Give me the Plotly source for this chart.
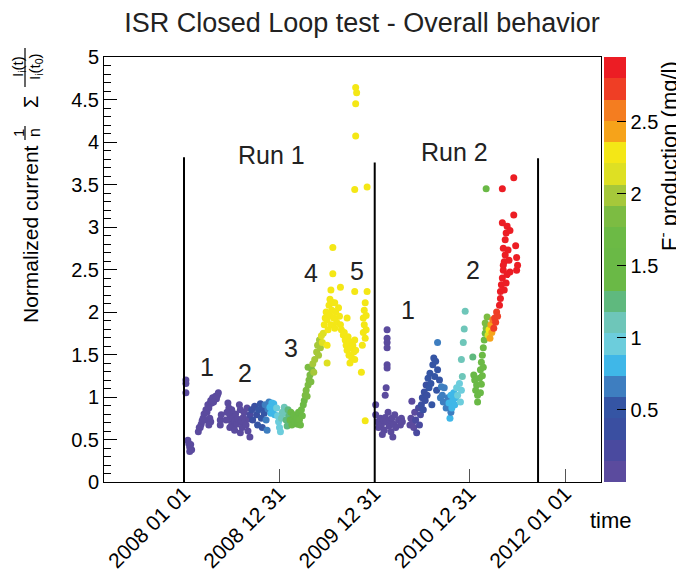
import pandas as pd
import plotly.graph_objects as go

# time as decimal year, normalized current, F- production (mg/l)
run1_t = [2008.02, 2008.02, 2008.02, 2008.04, 2008.05, 2008.06, 2008.06, 2008.08, 2008.07,
          2008.15, 2008.17, 2008.18, 2008.20, 2008.21, 2008.23, 2008.24, 2008.25, 2008.27, 2008.28,
          2008.30, 2008.33, 2008.35, 2008.36, 2008.29, 2008.26, 2008.22, 2008.16, 2008.19, 2008.34,
          2008.31, 2008.27, 2008.28, 2008.38, 2008.38, 2008.39, 2008.26,
          2008.46, 2008.47, 2008.48, 2008.49, 2008.50, 2008.51, 2008.52, 2008.53, 2008.54, 2008.55,
          2008.56, 2008.58, 2008.59, 2008.60, 2008.61, 2008.62, 2008.63, 2008.64, 2008.65, 2008.66,
          2008.67, 2008.69, 2008.68, 2008.48, 2008.53, 2008.59, 2008.50, 2008.44, 2008.45,
          2008.69, 2008.71, 2008.72, 2008.74, 2008.76, 2008.77, 2008.78, 2008.80, 2008.81, 2008.82,
          2008.83, 2008.84, 2008.85, 2008.86, 2008.87, 2008.88,
          2008.89, 2008.90, 2008.91, 2008.92, 2008.93, 2008.94, 2008.95,
          2008.97, 2008.98, 2008.99, 2009.00, 2009.01, 2009.02, 2009.03,
          2009.05, 2009.06, 2009.07, 2009.08, 2009.09, 2009.10,
          2009.11, 2009.12, 2009.13, 2009.14, 2009.15, 2009.16, 2009.18, 2009.19, 2009.20, 2009.21,
          2009.22, 2009.23, 2009.24, 2009.25,
          2009.26, 2009.27, 2009.28, 2009.29, 2009.30, 2009.30, 2009.31, 2009.32, 2009.33, 2009.34,
          2009.35, 2009.36,
          2009.37, 2009.39, 2009.40, 2009.41, 2009.42, 2009.43, 2009.44, 2009.45, 2009.46, 2009.50,
          2009.47, 2009.48, 2009.49, 2009.50, 2009.51, 2009.52, 2009.53, 2009.54, 2009.55, 2009.56,
          2009.57, 2009.58, 2009.59, 2009.60, 2009.62, 2009.63, 2009.64, 2009.65, 2009.71, 2009.67,
          2009.50,
          2009.56, 2009.56, 2009.54, 2009.64, 2009.58, 2009.53,
          2009.68, 2009.69, 2009.70, 2009.71, 2009.72, 2009.73, 2009.74, 2009.75, 2009.76, 2009.77,
          2009.78, 2009.79, 2009.80, 2009.79, 2009.74,
          2009.92, 2009.90, 2009.89, 2009.88, 2009.89, 2009.88, 2009.90, 2009.87, 2009.86, 2009.90,
          2009.91, 2009.91, 2009.79,
          2009.80, 2009.81, 2009.80, 2009.80, 2009.79, 2009.92]
run1_i = [1.20, 1.16, 1.05, 0.49, 0.45, 0.41, 0.36, 0.38, 0.44,
          0.59, 0.64, 0.68, 0.75, 0.80, 0.85, 0.82, 0.91, 0.92, 0.96,
          0.99, 1.01, 1.02, 1.05, 0.93, 0.87, 0.73, 0.64, 0.72, 0.98,
          0.94, 0.75, 0.71, 0.73, 0.67, 0.79, 0.67,
          0.93, 0.87, 0.79, 0.73, 0.68, 0.75, 0.65, 0.72, 0.80, 0.68,
          0.74, 0.91, 0.85, 0.71, 0.64, 0.76, 0.82, 0.73, 0.67, 0.87,
          0.60, 0.53, 0.74, 0.64, 0.61, 0.58, 0.85, 0.73, 0.82,
          0.79, 0.85, 0.73, 0.89, 0.79, 0.67, 0.85, 0.92, 0.75, 0.64,
          0.87, 0.81, 0.91, 0.73, 0.61, 0.86,
          0.94, 0.88, 0.81, 0.93, 0.85, 0.92, 0.79,
          0.87, 0.78, 0.71, 0.64, 0.59, 0.75, 0.82,
          0.88, 0.81, 0.73, 0.66, 0.85, 0.78,
          0.73, 0.82, 0.67, 0.74, 0.79, 0.71, 0.76, 0.68, 0.82, 0.73,
          0.67, 0.85, 0.78, 0.91,
          0.96, 1.02, 1.08, 1.01, 1.14, 1.35, 1.20, 1.26, 1.18, 1.32,
          1.39, 1.29,
          1.44, 1.53, 1.61, 1.49, 1.67, 1.58, 1.72, 1.64, 1.75, 1.40,
          1.85, 1.93, 2.00, 1.91, 1.79, 2.08, 1.96, 1.85, 2.02, 2.11,
          1.93, 1.81, 2.00, 1.88, 2.05, 1.95, 1.85, 1.79, 1.93, 1.73,
          1.61,
          2.76, 2.45, 2.26, 2.29, 2.11, 2.15,
          1.76, 1.67, 1.61, 1.55, 1.71, 1.49, 1.65, 1.58, 1.46, 1.61,
          1.53, 1.67, 1.55, 1.44, 1.40,
          2.24, 2.11, 2.02, 1.93, 1.85, 1.76, 1.69, 1.61, 1.29, 0.72,
          1.96, 1.79, 2.24,
          4.64, 4.58, 4.45, 4.07, 3.44, 3.47]
run1_f = [0.07, 0.07, 0.07, 0.07, 0.07, 0.07, 0.07, 0.07, 0.07,
          0.07, 0.07, 0.07, 0.07, 0.07, 0.07, 0.07, 0.07, 0.07, 0.07,
          0.07, 0.07, 0.07, 0.07, 0.07, 0.07, 0.07, 0.07, 0.07, 0.07,
          0.07, 0.07, 0.07, 0.07, 0.07, 0.07, 0.07,
          0.07, 0.07, 0.07, 0.07, 0.07, 0.07, 0.07, 0.07, 0.07, 0.07,
          0.07, 0.07, 0.07, 0.07, 0.07, 0.07, 0.07, 0.10, 0.10, 0.12,
          0.12, 0.12, 0.12, 0.07, 0.07, 0.07, 0.07, 0.07, 0.07,
          0.22, 0.30, 0.35, 0.40, 0.42, 0.45, 0.45, 0.50, 0.50, 0.50,
          0.55, 0.55, 0.60, 0.62, 0.62, 0.66,
          0.72, 0.76, 0.80, 0.82, 0.84, 0.86, 0.88,
          0.95, 0.97, 1.00, 1.00, 1.02, 1.05, 1.08,
          1.12, 1.15, 1.20, 1.22, 1.25, 1.30,
          1.40, 1.45, 1.50, 1.50, 1.55, 1.55, 1.60, 1.60, 1.60, 1.65,
          1.65, 1.70, 1.70, 1.72,
          1.75, 1.78, 1.80, 1.80, 1.82, 1.85, 1.85, 1.88, 1.88, 1.90,
          1.92, 1.92,
          1.95, 1.98, 2.00, 2.00, 2.05, 2.05, 2.10, 2.10, 2.15, 2.20,
          2.28, 2.28, 2.28, 2.28, 2.28, 2.28, 2.28, 2.28, 2.28, 2.28,
          2.28, 2.28, 2.28, 2.28, 2.28, 2.28, 2.28, 2.28, 2.28, 2.28,
          2.28,
          2.28, 2.28, 2.28, 2.28, 2.28, 2.28,
          2.28, 2.28, 2.28, 2.28, 2.28, 2.28, 2.28, 2.28, 2.28, 2.28,
          2.28, 2.28, 2.28, 2.28, 2.28,
          2.28, 2.28, 2.28, 2.28, 2.28, 2.28, 2.28, 2.28, 2.28, 2.28,
          2.28, 2.28, 2.28,
          2.28, 2.28, 2.28, 2.28, 2.28, 2.28]

run2_t = [2010.13, 2010.13, 2010.13, 2010.13, 2010.13, 2010.13, 2010.12, 2010.11, 2010.01,
          2010.01, 2010.03, 2010.04, 2010.06, 2010.07, 2010.09, 2010.10, 2010.11, 2010.12, 2010.14,
          2010.15, 2010.16, 2010.17, 2010.18, 2010.19, 2010.20, 2010.21, 2010.22, 2010.25, 2010.27,
          2010.28, 2010.29, 2010.08,
          2010.37, 2010.38, 2010.39, 2010.40, 2010.41, 2010.42, 2010.43, 2010.44, 2010.46, 2010.47,
          2010.48, 2010.49, 2010.50, 2010.51, 2010.52, 2010.53, 2010.54, 2010.55, 2010.56, 2010.57,
          2010.58, 2010.59, 2010.60, 2010.61, 2010.62, 2010.63, 2010.64, 2010.65, 2010.66, 2010.66,
          2010.68, 2010.69,
          2010.70, 2010.71, 2010.72, 2010.73, 2010.75, 2010.77, 2010.79, 2010.80,
          2010.78, 2010.80, 2010.81, 2010.82, 2010.83, 2010.84, 2010.85,
          2010.86, 2010.87, 2010.89, 2010.90, 2010.91,
          2010.92, 2010.91, 2010.93, 2010.94, 2010.95,
          2011.03, 2011.04, 2011.05, 2011.06, 2011.07, 2011.08, 2011.08, 2011.10, 2011.11, 2011.12,
          2011.13, 2011.14, 2011.15, 2011.16, 2011.17, 2011.16, 2011.18, 2011.17,
          2011.11, 2011.12, 2011.13, 2011.14,
          2011.19, 2011.20, 2011.21, 2011.22, 2011.23, 2011.24,
          2011.25, 2011.26, 2011.27, 2011.28, 2011.29,
          2011.31, 2011.32, 2011.32, 2011.33, 2011.34, 2011.35, 2011.36, 2011.37, 2011.35, 2011.37,
          2011.38, 2011.39, 2011.34, 2011.40, 2011.41, 2011.42, 2011.38, 2011.36, 2011.42, 2011.48,
          2011.49, 2011.50, 2011.49, 2011.34, 2011.46, 2011.46, 2011.35, 2011.39]
run2_i = [1.79, 1.69, 1.64, 1.58, 1.38, 1.34, 1.11, 1.02, 0.91,
          0.79, 0.71, 0.64, 0.75, 0.67, 0.73, 0.61, 0.76, 0.71, 0.82,
          0.66, 0.73, 0.59, 0.75, 0.53, 0.68, 0.79, 0.64, 0.73, 0.67,
          0.75, 0.71, 0.56,
          0.67, 0.75, 0.95, 0.71, 0.64, 0.82, 0.73, 0.58, 0.87, 0.67,
          0.79, 0.91, 0.99, 0.85, 1.06, 0.96, 1.14, 1.02, 1.22, 1.11,
          1.28, 1.16, 0.91, 1.38, 1.46, 1.24, 1.42, 1.08, 1.64, 1.32,
          1.20, 0.99,
          1.12, 1.02, 0.94, 1.11, 0.87, 0.99, 0.75, 0.82,
          0.93, 1.02, 0.87, 0.96, 1.05, 0.91, 0.99,
          1.11, 1.02, 1.16, 0.94, 1.08,
          1.24, 1.44, 1.64, 1.80, 2.01,
          1.47, 1.26, 1.20, 1.08, 1.14, 0.94, 1.02, 1.22, 1.32, 1.41,
          1.49, 1.58, 1.67, 1.75, 1.81, 1.87, 1.94, 3.45,
          1.05, 1.15, 1.25, 1.35,
          1.73, 1.79, 1.69, 1.85, 1.76, 1.91,
          1.81, 1.93, 1.88, 2.00, 1.95,
          2.08, 2.16, 2.24, 2.32, 2.40, 2.49, 2.59, 2.67, 2.75, 2.85,
          2.93, 3.01, 3.05, 2.73, 2.61, 2.47, 2.34, 2.26, 2.96, 2.78,
          2.64, 2.55, 2.49, 3.45, 3.58, 3.14, 2.55, 2.44]
run2_f = [0.07, 0.07, 0.07, 0.07, 0.07, 0.07, 0.07, 0.07, 0.07,
          0.07, 0.07, 0.07, 0.07, 0.07, 0.07, 0.07, 0.07, 0.07, 0.07,
          0.07, 0.07, 0.07, 0.07, 0.07, 0.07, 0.07, 0.07, 0.07, 0.07,
          0.07, 0.07, 0.07,
          0.07, 0.07, 0.10, 0.10, 0.12, 0.12, 0.15, 0.15, 0.18, 0.20,
          0.25, 0.30, 0.32, 0.35, 0.37, 0.40, 0.42, 0.44, 0.45, 0.46,
          0.48, 0.50, 0.45, 0.50, 0.52, 0.52, 0.55, 0.55, 0.62, 0.56,
          0.58, 0.60,
          0.65, 0.66, 0.67, 0.68, 0.70, 0.70, 0.80, 0.72,
          0.80, 0.82, 0.83, 0.84, 0.85, 0.85, 0.86,
          0.95, 0.96, 0.97, 0.98, 1.00,
          1.10, 1.10, 1.10, 1.10, 1.10,
          1.30, 1.35, 1.50, 1.55, 1.60, 1.55, 1.60, 1.62, 1.65, 1.68,
          1.70, 1.72, 1.74, 1.76, 1.78, 1.80, 1.80, 1.60,
          1.62, 1.64, 1.66, 1.68,
          2.15, 2.25, 2.40, 2.45, 2.50, 2.60,
          2.70, 2.72, 2.75, 2.78, 2.80,
          2.88, 2.88, 2.88, 2.88, 2.88, 2.88, 2.88, 2.88, 2.88, 2.88,
          2.88, 2.88, 2.88, 2.88, 2.88, 2.88, 2.88, 2.88, 2.88, 2.88,
          2.88, 2.88, 2.88, 2.88, 2.88, 2.88, 2.88, 2.88]

# run boundaries (decimal year, height of marker line)
run_edges = [2008.0, 2010.0, 2011.715]
run_edge_tops = [3.82, 3.76, 3.81]

# labels on the plot
label_text = ["Run 1", "Run 2", "1", "2", "3", "4", "5", "1", "2"]
label_t = [2008.92, 2010.84, 2008.24, 2008.64, 2009.12, 2009.33, 2009.81, 2010.35, 2011.03]
label_i = [3.85, 3.88, 1.35, 1.28, 1.58, 2.46, 2.48, 2.02, 2.50]

tick_dates = ["2008-01-01", "2008-12-31", "2009-12-31", "2010-12-31", "2012-01-01"]
tick_text = ["2008 01 01", "2008 12 31", "2009 12 31", "2010 12 31", "2012 01 01"]

# ROOT-like palette, 20 contour bands from 0 to 2.95
band_colors = ["#5b4b9e", "#4a4a9f", "#3a4fa1", "#3555a4", "#3e7ec0",
               "#3fb7e8", "#6ccddc", "#6ec6b9", "#5fb97e", "#6ab946",
               "#6ab946", "#6cba45", "#7cbc42", "#a6c83a", "#dee023",
               "#f4e716", "#f6a31a", "#f47d20", "#ef3e25", "#ec1d24"]
f_max = 2.95

FONT = "Liberation Sans, Arial, Helvetica, sans-serif"

# the page body has an 8 px margin, so the figure is drawn 8 px in from the corner
W, H = 676, 563


def year_to_date(y):
    start = pd.Timestamp(int(y), 1, 1)
    end = pd.Timestamp(int(y) + 1, 1, 1)
    return start + (end - start) * (y - int(y))


def to_paper(px, py):
    # screen position -> paper coords; plot frame is 104..601 x 57..482 on screen
    return (px - 104) / 497, (482 - py) / 425


colorscale = []
n = len(band_colors)
for k, c in enumerate(band_colors):
    colorscale.append([k / n, c])
    colorscale.append([(k + 1) / n, c])

t_all = [year_to_date(v) for v in run1_t + run2_t]
i_all = run1_i + run2_i
f_all = run1_f + run2_f

fig = go.Figure()
fig.add_trace(go.Scatter(
    x=t_all, y=i_all, mode="markers",
    marker=dict(size=7, color=f_all, colorscale=colorscale, cmin=0, cmax=f_max,
                line=dict(width=0),
                colorbar=dict(
                    x=1.006, xanchor="left", y=0, yanchor="bottom", len=1,
                    thickness=22, outlinewidth=0, xpad=0, ypad=0,
                    ticks="inside", ticklen=9, tickcolor="black",
                    tickvals=[0.5, 1, 1.5, 2, 2.5], ticktext=["0.5", "1", "1.5", "2", "2.5"],
                    tickfont=dict(size=20, color="black"),
                )),
    showlegend=False, hoverinfo="x+y",
))

for t, top in zip(run_edges, run_edge_tops):
    d = year_to_date(t)
    fig.add_shape(type="line", xref="x", yref="y", x0=d, x1=d, y0=0, y1=top,
                  line=dict(color="black", width=2))

for txt, t, v in zip(label_text, label_t, label_i):
    fig.add_annotation(x=year_to_date(t), y=v, text=txt, showarrow=False,
                       xanchor="center", yanchor="middle",
                       font=dict(size=25, color="#222"))


def note(txt, px, py, size, angle=0):
    ax, ay = to_paper(px, py)
    fig.add_annotation(xref="paper", yref="paper", x=ax, y=ay, text=txt, showarrow=False,
                       xanchor="center", yanchor="middle", textangle=angle,
                       font=dict(size=size, color="black"))


# y axis title with the formula, built from rotated pieces
note("Normalized current", 30, 234, 21, -90)
note("1", 18, 133, 15, -90)
note("n", 34, 133, 16, -90)
note("Σ", 31, 102, 20, -90)
note("I<sub>i</sub>(t)", 18, 67, 15, -90)
note("I<sub>i</sub>(t<sub>0</sub>)", 35, 67, 15, -90)
for px, py0, py1 in [(25, 126, 140), (25, 48, 87)]:
    ax, ay0 = to_paper(px, py0)
    _, ay1 = to_paper(px, py1)
    fig.add_shape(type="line", xref="paper", yref="paper", x0=ax, x1=ax, y0=ay0, y1=ay1,
                  line=dict(color="black", width=1.2))

# colour bar title, aligned to the top of the bar
note("F<sup>-</sup> production (mg/l)", 668, 156, 22, -90)
note("time", 611, 520, 22)

fig.update_layout(
    width=W, height=H,
    margin=dict(l=96, r=83, t=49, b=89, autoexpand=False),
    plot_bgcolor="white", paper_bgcolor="white",
    font=dict(family=FONT, color="black"),
    title=dict(text="ISR Closed Loop test - Overall behavior", x=354 / W, y=1 - 15 / H,
               xanchor="center", yanchor="middle", font=dict(size=27, color="#222")),
    xaxis=dict(type="date", range=[year_to_date(2007.16), year_to_date(2012.375)],
               tickvals=tick_dates, ticktext=tick_text, tickangle=-45,
               tickfont=dict(size=21), ticks="inside", ticklen=13, tickcolor="#555",
               ticklabelstandoff=-10,
               showline=True, linecolor="black", linewidth=1, mirror=True,
               showgrid=False, zeroline=False),
    yaxis=dict(range=[0, 5], tickvals=[0, 0.5, 1, 1.5, 2, 2.5, 3, 3.5, 4, 4.5, 5],
               ticktext=["0", "0.5", "1", "1.5", "2", "2.5", "3", "3.5", "4", "4.5", "5"],
               tickfont=dict(size=20), ticks="inside", ticklen=13, tickcolor="black",
               minor=dict(dtick=0.1, ticks="inside", ticklen=7, tickcolor="black"),
               showline=True, linecolor="black", linewidth=1, mirror=True,
               showgrid=False, zeroline=False),
)

fig.write_html("out.html")
